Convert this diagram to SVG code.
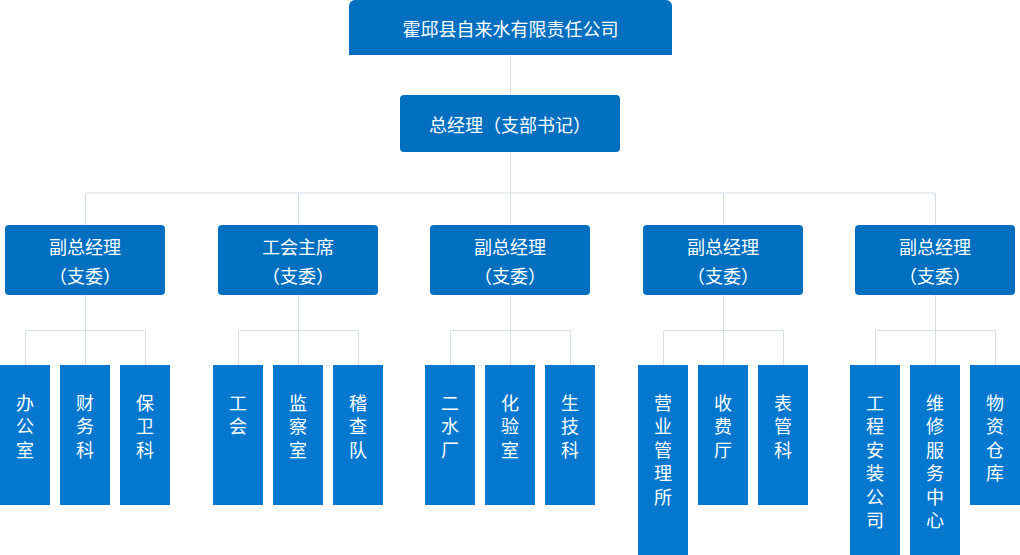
<svg xmlns="http://www.w3.org/2000/svg" width="1020" height="555" viewBox="0 0 1020 555">
<style>
.l1{fill:#006fbf}
.l3{fill:#0378ce}
text{font-family:"Noto Sans CJK SC","Noto Sans",sans-serif;fill:#fff;text-anchor:middle;dominant-baseline:central}
.t16{font-size:18px}
.t18{font-size:18px}
.c{stroke:#d5dfea;stroke-width:1;fill:none}
</style>
<rect width="1020" height="555" fill="#fff"/>
<g id="connectors" class="c">
<path d="M510.5 55V95M510.5 152V193M85.5 193H935.5"/>
<path d="M85.5 193V225M298.5 193V225M510.5 193V225M723.5 193V225M935.5 193V225"/>
<path d="M85.5 295V365M25.5 365V330.5H145.5V365"/>
<path d="M298.5 295V365M238.5 365V330.5H358.5V365"/>
<path d="M510.5 295V365M450.5 365V330.5H570.5V365"/>
<path d="M723.5 295V365M663.5 365V330.5H783.5V365"/>
<path d="M935.5 295V365M875.5 365V330.5H995.5V365"/>
</g>
<g id="company"><path class="l1" d="M349 55V6a6 6 0 0 1 6-6H666a6 6 0 0 1 6 6V55Z"/><text class="t16" x="510.5" y="28">霍邱县自来水有限责任公司</text></g>
<g id="gm"><rect class="l1" x="400" y="95" width="220" height="57" rx="4"/><text class="t16" x="510" y="123.5">总经理（支部书记）</text></g>
<g id="vp1"><rect class="l1" x="5" y="225" width="160" height="70" rx="4"/><text class="t16" x="85" y="245.5">副总经理</text><text class="t16" x="85" y="274.5">（支委）</text></g>
<g id="union"><rect class="l1" x="218" y="225" width="160" height="70" rx="4"/><text class="t16" x="298" y="245.5">工会主席</text><text class="t16" x="298" y="274.5">（支委）</text></g>
<g id="vp2"><rect class="l1" x="430" y="225" width="160" height="70" rx="4"/><text class="t16" x="510" y="245.5">副总经理</text><text class="t16" x="510" y="274.5">（支委）</text></g>
<g id="vp3"><rect class="l1" x="643" y="225" width="160" height="70" rx="4"/><text class="t16" x="723" y="245.5">副总经理</text><text class="t16" x="723" y="274.5">（支委）</text></g>
<g id="vp4"><rect class="l1" x="855" y="225" width="160" height="70" rx="4"/><text class="t16" x="935" y="245.5">副总经理</text><text class="t16" x="935" y="274.5">（支委）</text></g>

<g id="d1"><rect class="l3" x="0" y="365" width="50" height="140"/><text class="t18" x="25" y="401.5"><tspan x="25">办</tspan><tspan x="25" dy="23.5">公</tspan><tspan x="25" dy="23.5">室</tspan></text></g>
<g id="d2"><rect class="l3" x="60" y="365" width="50" height="140"/><text class="t18" x="85" y="401.5"><tspan x="85">财</tspan><tspan x="85" dy="23.5">务</tspan><tspan x="85" dy="23.5">科</tspan></text></g>
<g id="d3"><rect class="l3" x="120" y="365" width="50" height="140"/><text class="t18" x="145" y="401.5"><tspan x="145">保</tspan><tspan x="145" dy="23.5">卫</tspan><tspan x="145" dy="23.5">科</tspan></text></g>

<g id="d4"><rect class="l3" x="213" y="365" width="50" height="140"/><text class="t18" x="238" y="401.5"><tspan x="238">工</tspan><tspan x="238" dy="23.5">会</tspan></text></g>
<g id="d5"><rect class="l3" x="273" y="365" width="50" height="140"/><text class="t18" x="298" y="401.5"><tspan x="298">监</tspan><tspan x="298" dy="23.5">察</tspan><tspan x="298" dy="23.5">室</tspan></text></g>
<g id="d6"><rect class="l3" x="333" y="365" width="50" height="140"/><text class="t18" x="358" y="401.5"><tspan x="358">稽</tspan><tspan x="358" dy="23.5">查</tspan><tspan x="358" dy="23.5">队</tspan></text></g>

<g id="d7"><rect class="l3" x="425" y="365" width="50" height="140"/><text class="t18" x="450" y="401.5"><tspan x="450">二</tspan><tspan x="450" dy="23.5">水</tspan><tspan x="450" dy="23.5">厂</tspan></text></g>
<g id="d8"><rect class="l3" x="485" y="365" width="50" height="140"/><text class="t18" x="510" y="401.5"><tspan x="510">化</tspan><tspan x="510" dy="23.5">验</tspan><tspan x="510" dy="23.5">室</tspan></text></g>
<g id="d9"><rect class="l3" x="545" y="365" width="50" height="140"/><text class="t18" x="570" y="401.5"><tspan x="570">生</tspan><tspan x="570" dy="23.5">技</tspan><tspan x="570" dy="23.5">科</tspan></text></g>

<g id="d10"><rect class="l3" x="638" y="365" width="50" height="190"/><text class="t18" x="663" y="401.5"><tspan x="663">营</tspan><tspan x="663" dy="23.5">业</tspan><tspan x="663" dy="23.5">管</tspan><tspan x="663" dy="23.5">理</tspan><tspan x="663" dy="23.5">所</tspan></text></g>
<g id="d11"><rect class="l3" x="698" y="365" width="50" height="140"/><text class="t18" x="723" y="401.5"><tspan x="723">收</tspan><tspan x="723" dy="23.5">费</tspan><tspan x="723" dy="23.5">厅</tspan></text></g>
<g id="d12"><rect class="l3" x="758" y="365" width="50" height="140"/><text class="t18" x="783" y="401.5"><tspan x="783">表</tspan><tspan x="783" dy="23.5">管</tspan><tspan x="783" dy="23.5">科</tspan></text></g>

<g id="d13"><rect class="l3" x="850" y="365" width="50" height="190"/><text class="t18" x="875" y="401.5"><tspan x="875">工</tspan><tspan x="875" dy="23.5">程</tspan><tspan x="875" dy="23.5">安</tspan><tspan x="875" dy="23.5">装</tspan><tspan x="875" dy="23.5">公</tspan><tspan x="875" dy="23.5">司</tspan></text></g>
<g id="d14"><rect class="l3" x="910" y="365" width="50" height="190"/><text class="t18" x="935" y="401.5"><tspan x="935">维</tspan><tspan x="935" dy="23.5">修</tspan><tspan x="935" dy="23.5">服</tspan><tspan x="935" dy="23.5">务</tspan><tspan x="935" dy="23.5">中</tspan><tspan x="935" dy="23.5">心</tspan></text></g>
<g id="d15"><rect class="l3" x="970" y="365" width="50" height="140"/><text class="t18" x="995" y="401.5"><tspan x="995">物</tspan><tspan x="995" dy="23.5">资</tspan><tspan x="995" dy="23.5">仓</tspan><tspan x="995" dy="23.5">库</tspan></text></g>
</svg>
